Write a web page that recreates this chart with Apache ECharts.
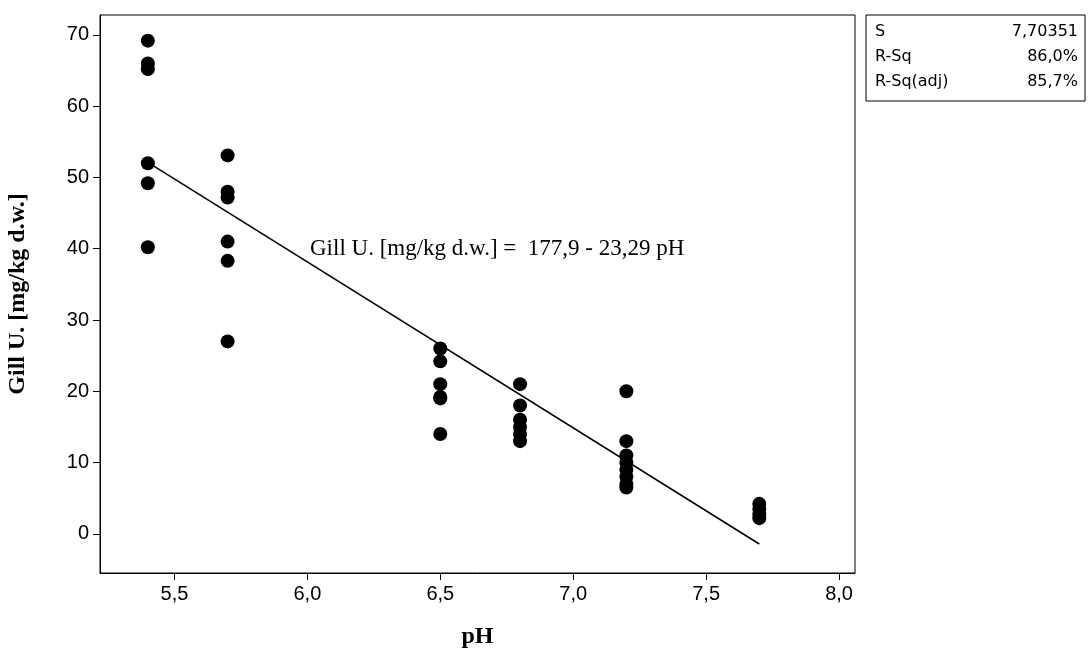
<!DOCTYPE html>
<html><head><meta charset="utf-8">
<script src="https://cdn.jsdelivr.net/npm/echarts@6/dist/echarts.min.js"></script>
<style>html,body{margin:0;background:#fff}#c{width:1091px;height:657px}</style>
</head><body><div id="c"></div>
<script>
const ph54 = [69.2, 66, 65.2, 52, 49.2, 40.2];
const ph57 = [53.1, 48, 47.2, 41, 38.3, 27];
const ph65 = [26, 24.2, 21, 19.2, 19, 14];
const ph68 = [21, 18, 16, 15, 14, 13];
const ph72 = [20, 13, 11, 10, 9, 8, 7, 6.5];
const ph77 = [4.2, 3.5, 2.8, 2.2];
const fitX = [5.4, 7.7];
const fitY = [52.13, -1.43];
const xTicks = [5.5, 6.0, 6.5, 7.0, 7.5, 8.0];
const yTicks = [0, 10, 20, 30, 40, 50, 60, 70];

const groups = [[5.4, ph54], [5.7, ph57], [6.5, ph65], [6.8, ph68], [7.2, ph72], [7.7, ph77]];
const pts = [];
groups.forEach(g => g[1].forEach(v => pts.push([g[0], v])));

const chart = echarts.init(document.getElementById("c"));
chart.setOption({
    animation: false,
    grid: { left: 100, right: 236, top: 15, bottom: 84, show: true, borderColor: "#000", borderWidth: 1,
            containLabel: false, outerBoundsMode: "none" },
    xAxis: {
        type: "value", min: 5.22, max: 8.06,
        name: "pH", nameLocation: "middle", nameGap: 52,
        nameTextStyle: { fontFamily: "Liberation Serif", fontWeight: "bold", fontSize: 24, color: "#000" },
        axisLine: { onZero: false, lineStyle: { color: "#000" } },
        axisTick: { inside: false, length: 7, lineStyle: { color: "#000" }, customValues: xTicks },
        axisLabel: { fontFamily: "Liberation Sans", fontSize: 20, color: "#000", margin: 11,
            customValues: xTicks, formatter: v => v.toFixed(1).replace(".", ",") },
        splitLine: { show: false }
    },
    yAxis: {
        type: "value", min: -5.5, max: 72.8,
        name: "Gill U. [mg/kg d.w.]", nameLocation: "middle", nameGap: 70,
        nameTextStyle: { fontFamily: "Liberation Serif", fontWeight: "bold", fontSize: 24, color: "#000" },
        axisLine: { onZero: false, lineStyle: { color: "#000" } },
        axisTick: { inside: false, length: 7, lineStyle: { color: "#000" }, customValues: yTicks },
        axisLabel: { fontFamily: "Liberation Sans", fontSize: 20, color: "#000", margin: 11, customValues: yTicks },
        splitLine: { show: false }
    },
    series: [
        { type: "scatter", data: pts, symbolSize: 14, itemStyle: { color: "#000", opacity: 1 } },
        { type: "line", data: fitX.map((x, i) => [x, fitY[i]]), symbol: "none",
          lineStyle: { color: "#000", width: 1.5 } }
    ],
    graphic: [
        { type: "text", left: 310, top: 237, style: { text: "Gill U. [mg/kg d.w.] =  177,9 - 23,29 pH",
            font: "23px 'Liberation Serif'", fill: "#000" } },
        { type: "rect", shape: { x: 866, y: 15, width: 219, height: 86 },
          style: { fill: "#fff", stroke: "#000", lineWidth: 1 } },
        { type: "text", x: 875, y: 19, style: { text: "S\nR-Sq\nR-Sq(adj)", font: "16px 'DejaVu Sans'", fill: "#000", lineHeight: 25 } },
        { type: "text", x: 1078, y: 19, style: { text: "7,70351\n86,0%\n85,7%", font: "16px 'DejaVu Sans'", fill: "#000", lineHeight: 25, align: "right" } }
    ]
});
</script></body></html>
